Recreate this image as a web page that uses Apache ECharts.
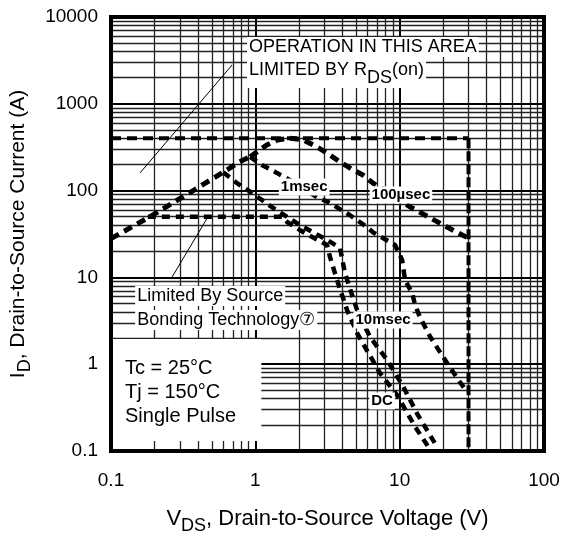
<!DOCTYPE html>
<html><head><meta charset="utf-8">
<script src="https://cdn.jsdelivr.net/npm/echarts@6/dist/echarts.min.js"></script>
<style>html,body{margin:0;padding:0;background:#fff}#c{width:566px;height:534px}</style>
</head><body><div id="c"></div>
<script>
// ---------- data ----------
const xTickLabels = ['0.1', '1', '10', '100'];
const yTickLabels = ['0.1', '1', '10', '100', '1000', '10000'];
const xMajorGrid = [1, 10];
const xMinorGrid = [0.2,0.3,0.4,0.5,0.6,0.7,0.8,0.9, 2,3,4,5,6,7,8,9, 20,30,40,50,60,70,80,90];
const yMajorGrid = [1, 10, 100, 1000];
const yMinorGrid = [0.2,0.3,0.4,0.5,0.6,0.7,0.8,0.9, 2,3,4,5,6,7,8,9, 20,30,40,50,60,70,80,90,
                    200,300,400,500,600,700,800,900, 2000,3000,4000,5000,6000,7000,8000,9000];

// package current limit (horizontal) and VDS max (vertical)
const packageLimit = [[0.1, 400], [30, 400]];
const vdsMaxLimit = [[30, 400], [30, 0.1]];
// RDS(on) limited rising line (shared by all pulse curves)
const rdsOnLine = [[0.1, 28], [0.186, 50], [0.352, 95], [0.6, 163], [0.78, 215], [0.92, 245]];
// 100 µs
const curve100us = [[0.92, 245], [1.2, 335], [1.42, 383], [1.74, 400], [2.14, 385], [2.68, 318], [3.14, 271],
  [3.86, 214], [4.76, 173], [5.56, 151], [6.54, 122], [11.8, 65], [21.3, 38], [29.8, 28.4]];
// 1 ms
const curve1ms = [[0.92, 245], [1.11, 197], [1.41, 160], [1.74, 132], [2.68, 84], [3.29, 72], [4.53, 52],
  [5.94, 38], [6.54, 33], [9.29, 23.6], [10.4, 15.9], [10.9, 9.3], [12.2, 6.6], [12.8, 4.8], [13.8, 3.5],
  [16.3, 2.06], [21.3, 1.03], [26.2, 0.62], [29.3, 0.48]];
// 10 ms
const curve10ms = [[0.6, 163], [0.746, 122], [0.948, 94], [1.33, 63], [2.04, 40], [3.14, 27], [3.86, 21.8],
  [4.18, 11.2], [4.75, 5.8], [5.15, 3.9], [6.24, 2.06], [8.18, 1.12], [10.6, 0.55], [13.2, 0.27], [18.2, 0.111]];
// DC (source bonding limit 50 A, then thermal)
const curveDC = [[0.18, 50], [1.53, 50], [1.66, 43.5], [2.04, 35], [2.5, 29], [3.14, 23.6], [3.29, 17.2],
  [3.74, 8.6], [4.32, 4.2], [5.15, 2.17], [7.31, 0.79], [9.6, 0.44], [12.8, 0.19], [16.3, 0.103]];
// leader lines for annotations
const leaderRds = [[0.69, 2800], [0.159, 160]];
const leaderSource = [[0.47, 50], [0.265, 10.1]];

// annotations (text + data-space anchor)
const noteTexts = ['OPERATION IN THIS AREA', 'LIMITED BY R{sub|DS}(on)', 'Limited By Source', 'Bonding Technology\u2466'];
const noteAnchors = [[0.876, 4510], [0.876, 2450], [0.147, 6.1], [0.147, 3.23]];
const condTexts = ['Tc = 25°C', 'Tj = 150°C', 'Single Pulse'];
const condAnchors = [[0.125, 0.904], [0.125, 0.466], [0.125, 0.253]];
const condBox = [[0.1, 0.13], [1.1, 1.95]];
const curveLabelTexts = ['1msec', '100µsec', '10msec', 'DC'];
const curveLabelAnchors = [[2.18, 110], [10.2, 89], [7.67, 3.23], [7.55, 0.377]];

// ---------- chart ----------
const FONT = '"Liberation Sans", Arial, Helvetica, sans-serif';
const chart = echarts.init(document.getElementById('c'), null, { renderer: 'canvas' });

function dashed(name, data, dash, width) {
  return {
    name, type: 'line', data, z: 3, symbol: 'none', silent: true, animation: false,
    lineStyle: { color: '#000', width: width || 4.5, type: dash, cap: 'butt' }
  };
}
function thin(name, data) {
  return { name, type: 'line', data, z: 3, symbol: 'none', silent: true, animation: false,
    lineStyle: { color: '#000', width: 1 } };
}
const mlCommon = { symbol: ['none', 'none'], silent: true, animation: false, label: { show: false }, emphasis: { disabled: true } };

const option = {
  animation: false,
  grid: { left: 111, right: 22, top: 17, bottom: 83, show: true, borderColor: '#000', borderWidth: 4,
          backgroundColor: 'transparent', z: 6, containLabel: false, outerBoundsMode: 'none' },
  xAxis: {
    type: 'log', logBase: 10, min: 0.1, max: 100,
    axisLine: { show: false }, axisTick: { show: false }, splitLine: { show: false },
    axisLabel: { color: '#000', fontSize: 19, fontFamily: FONT, margin: 20,
      formatter: v => xTickLabels[Math.round(Math.log10(v)) + 1] },
    name: '{t|V}{sub|DS}{t|, Drain-to-Source Voltage (V)}', nameLocation: 'middle', nameGap: 52,
    nameTextStyle: { color: '#000', fontFamily: FONT,
      rich: { t: { fontSize: 22, fontFamily: FONT, color: '#000' },
              sub: { fontSize: 18, fontFamily: FONT, color: '#000', padding: [14, 0, 0, 0] } } }
  },
  yAxis: {
    type: 'log', logBase: 10, min: 0.1, max: 10000,
    axisLine: { show: false }, axisTick: { show: false }, splitLine: { show: false },
    axisLabel: { color: '#000', fontSize: 19, fontFamily: FONT, margin: 13,
      formatter: v => yTickLabels[Math.round(Math.log10(v)) + 1] },
    name: '{t|I}{sub|D}{t|, Drain-to-Source Current (A)}', nameLocation: 'middle', nameGap: 74,
    nameTextStyle: { color: '#000', fontFamily: FONT,
      rich: { t: { fontSize: 21, fontFamily: FONT, color: '#000' },
              sub: { fontSize: 18, fontFamily: FONT, color: '#000', padding: [14, 0, 0, 0] } } }
  },
  series: [
    { name: 'grid', type: 'line', data: [], z: 1, silent: true,
      markLine: Object.assign({}, mlCommon, { z: 1,
        data: [
          ...xMinorGrid.map(v => ({ xAxis: v, lineStyle: { color: '#222', width: 1.3, type: 'solid' } })),
          ...xMajorGrid.map(v => ({ xAxis: v, lineStyle: { color: '#000', width: 2, type: 'solid' } })),
          ...yMinorGrid.map(v => ({ yAxis: v, lineStyle: { color: '#222', width: 1.3, type: 'solid' } })),
          ...yMajorGrid.map(v => ({ yAxis: v, lineStyle: { color: '#000', width: 2, type: 'solid' } }))
        ] }) },
    { name: 'box', type: 'line', data: [], z: 2, silent: true,
      markArea: { z: 2, silent: true, animation: false, itemStyle: { color: '#fff', opacity: 1 }, label: { show: false },
        data: [[{ coord: condBox[0] }, { coord: condBox[1] }]] } },
    dashed('package', packageLimit, [10, 6], 4),
    dashed('vdsmax', vdsMaxLimit, [10, 3], 4),
    dashed('rds', rdsOnLine, [9, 6], 5),
    dashed('100us', curve100us, [9, 6], 5),
    dashed('1ms', curve1ms, [8, 6], 4.5),
    dashed('10ms', curve10ms, [8, 6], 4.5),
    dashed('dc', curveDC, [8, 6], 4.5),
    thin('leaderRds', leaderRds),
    thin('leaderSource', leaderSource),
    { name: 'notes', type: 'scatter', z: 4, symbolSize: 0, silent: true, animation: false,
      itemStyle: { opacity: 1 },
      data: noteTexts.map((t, i) => ({ value: noteAnchors[i],
        label: { show: true, formatter: t, position: 'right', distance: 0, color: '#000', fontSize: 18,
          fontFamily: FONT, backgroundColor: '#fff', padding: [1, 2, 1, 2],
          rich: { sub: { fontSize: 18, fontFamily: FONT, color: '#000', padding: [16, 0, 0, 0] } } } })) },
    { name: 'conds', type: 'scatter', z: 4, symbolSize: 0, silent: true, animation: false,
      itemStyle: { opacity: 1 },
      data: condTexts.map((t, i) => ({ value: condAnchors[i],
        label: { show: true, formatter: t, position: 'right', distance: 0, color: '#000', fontSize: 20, fontFamily: FONT } })) },
    { name: 'curveLabels', type: 'scatter', z: 4, symbolSize: 0, silent: true, animation: false,
      itemStyle: { opacity: 1 },
      data: curveLabelTexts.map((t, i) => ({ value: curveLabelAnchors[i],
        label: { show: true, formatter: t, position: 'inside', color: '#000', fontSize: 15, fontWeight: 'bold',
          fontFamily: FONT, backgroundColor: '#fff', padding: [1, 2, 1, 2] } })) }
  ]
};
chart.setOption(option);
</script>
</body></html>
